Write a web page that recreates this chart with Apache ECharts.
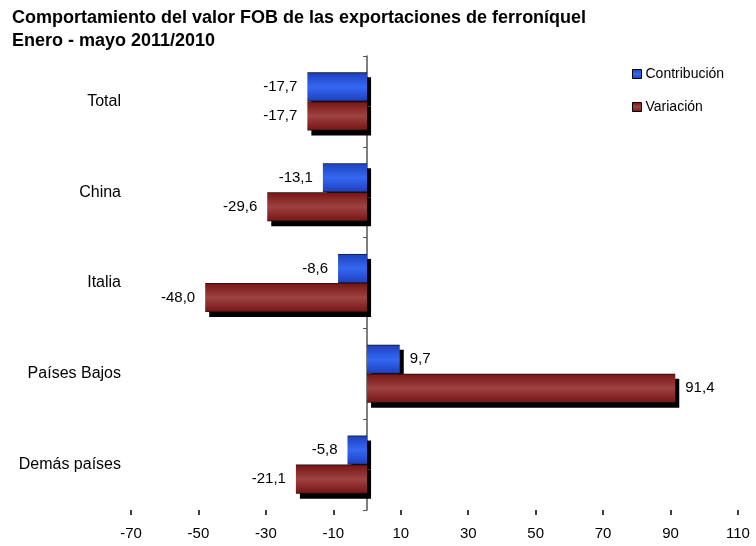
<!DOCTYPE html>
<html>
<head>
<meta charset="utf-8">
<script src="https://cdn.jsdelivr.net/npm/echarts@6/dist/echarts.min.js"></script>
<style>
  html, body { margin: 0; padding: 0; background: #fff; }
  #chart { width: 756px; height: 546px; }
</style>
</head>
<body>
<div id="chart"></div>
<script>
const categories = ["Total", "China", "Italia", "Países Bajos", "Demás países"];
const contribucion = [-17.7, -13.1, -8.6, 9.7, -5.8];
const variacion = [-17.7, -29.6, -48.0, 91.4, -21.1];
const xTicks = [-70, -50, -30, -10, 10, 30, 50, 70, 90, 110];

const font = "Liberation Sans, Arial, sans-serif";

// vertical gradient, dark edges, lighter middle
const shade = (edge, mid) => ({
  type: "linear", x: 0, y: 0, x2: 0, y2: 1,
  colorStops: [
    { offset: 0, color: "#111" },
    { offset: 0.05, color: edge },
    { offset: 0.5, color: mid },
    { offset: 0.95, color: edge },
    { offset: 1, color: "#111" },
  ],
});
const blue = shade("#1f43c2", "#3568f2");
const red = shade("#7b1818", "#9e4242");

// label goes on the outer end of each bar
const withLabels = (values) =>
  values.map((v) => ({
    value: v,
    label: { position: v < 0 ? "left" : "right" },
  }));

const barStyle = (color) => ({
  color,
  borderWidth: 0,
  shadowColor: "#000",
  shadowBlur: 0,
  shadowOffsetX: 4,
  shadowOffsetY: 5,
});

const labelStyle = {
  show: true,
  distance: 10,
  color: "#000",
  fontFamily: font,
  fontSize: 15,
  formatter: (p) => p.value.toFixed(1).replace(".", ","),
};

const chart = echarts.init(document.getElementById("chart"));
chart.setOption({
  animation: false,
  title: {
    text: "Comportamiento del valor FOB de las exportaciones de ferroníquel\nEnero - mayo 2011/2010",
    left: 7,
    top: 2,
    textStyle: { fontFamily: font, fontSize: 18, fontWeight: "bold", color: "#000", lineHeight: 23 },
  },
  legend: {
    orient: "vertical",
    left: 627,
    top: 62,
    itemGap: 19,
    itemWidth: 9,
    itemHeight: 9,
    icon: "rect",
    itemStyle: { borderColor: "#000", borderWidth: 1, shadowOffsetX: 0, shadowOffsetY: 0 },
    textStyle: { fontFamily: font, fontSize: 14, color: "#000", padding: [0, 0, 0, -1] },
    data: ["Contribución", "Variación"],
  },
  grid: { left: 131, right: 18, top: 56, bottom: 36, containLabel: false },
  xAxis: {
    type: "value",
    min: -70,
    max: 110,
    splitLine: { show: false },
    axisLine: { lineStyle: { color: "#000", width: 1.5 } },
    axisTick: { show: true, customValues: xTicks, length: 5, lineStyle: { color: "#000", width: 1.5 } },
    axisLabel: { customValues: xTicks, color: "#000", fontFamily: font, fontSize: 15, margin: 16 },
  },
  yAxis: [
    {
      type: "category",
      data: categories,
      inverse: true,
      axisLine: { show: false, onZero: false },
      axisTick: { show: false },
      axisLabel: { color: "#000", fontFamily: font, fontSize: 16, margin: 10 },
    },
    {
      type: "category",
      data: categories,
      inverse: true,
      position: "left",
      axisLine: { show: true, onZero: true, lineStyle: { color: "#555", width: 1.5 } },
      axisTick: { show: true, length: 4, lineStyle: { color: "#555" } },
      axisLabel: { show: false },
    },
  ],
  series: [
    {
      name: "Contribución",
      type: "bar",
      data: withLabels(contribucion),
      barGap: "0%",
      barCategoryGap: "36%",
      itemStyle: barStyle(blue),
      label: labelStyle,
    },
    {
      name: "Variación",
      type: "bar",
      data: withLabels(variacion),
      barGap: "0%",
      barCategoryGap: "36%",
      itemStyle: barStyle(red),
      label: labelStyle,
    },
  ],
});
</script>
</body>
</html>
